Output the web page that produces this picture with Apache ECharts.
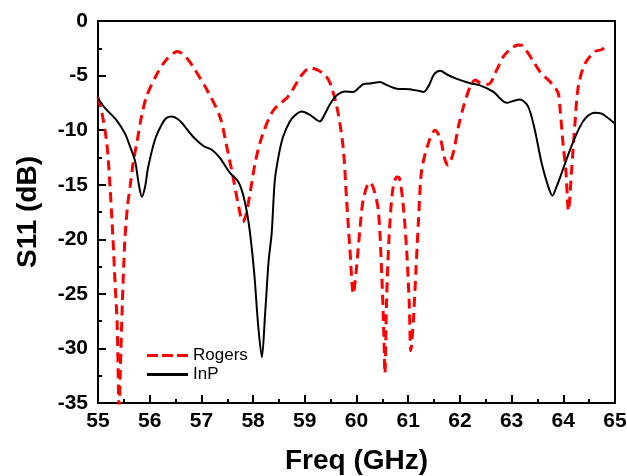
<!DOCTYPE html>
<html>
<head>
<meta charset="utf-8">
<script src="https://cdn.jsdelivr.net/npm/echarts@6/dist/echarts.min.js"></script>
<style>html,body{margin:0;padding:0;background:#fff}#c{width:627px;height:476px}</style>
</head>
<body>
<div id="c"></div>
<script>
const freqInP = [55.00,55.14,55.36,55.52,55.62,55.72,55.79,55.85,55.91,55.97,56.10,56.23,56.32,56.43,56.55,56.65,56.84,57.04,57.20,57.35,57.55,57.71,57.80,57.88,57.94,58.02,58.10,58.17,58.23,58.30,58.36,58.42,58.50,58.58,58.71,58.82,58.94,59.10,59.29,59.38,59.49,59.62,59.78,59.94,60.05,60.13,60.30,60.45,60.60,60.78,61.03,61.20,61.30,61.40,61.50,61.62,61.75,61.94,62.20,62.39,62.65,62.80,62.90,63.05,63.16,63.32,63.45,63.58,63.71,63.79,63.86,63.94,64.13,64.32,64.45,64.61,64.75,64.84,65.00];
const s11InP = [-7.1,-8.0,-9.1,-10.3,-11.5,-12.9,-15.0,-16.1,-15.2,-13.4,-10.9,-9.5,-8.9,-8.75,-9.0,-9.5,-10.6,-11.45,-11.8,-12.5,-13.9,-14.7,-15.8,-17.5,-19.4,-23,-28,-30.8,-27,-22,-19.4,-14.6,-12.2,-10.6,-9.2,-8.6,-8.3,-8.6,-9.2,-8.6,-7.6,-6.8,-6.45,-6.5,-6.1,-5.8,-5.7,-5.6,-5.9,-6.2,-6.25,-6.4,-6.5,-5.9,-4.9,-4.55,-4.9,-5.3,-5.7,-5.9,-6.5,-7.2,-7.5,-7.3,-7.2,-7.85,-10.0,-13.0,-15.2,-16.0,-15.3,-14.3,-11.8,-9.7,-8.8,-8.4,-8.5,-8.8,-9.4];

const freqRogers = [55.00,55.08,55.17,55.23,55.29,55.33,55.37,55.41,55.43,55.47,55.52,55.57,55.62,55.68,55.75,55.84,55.94,56.13,56.33,56.54,56.70,56.84,57.13,57.36,57.49,57.62,57.72,57.80,57.86,57.94,58.04,58.17,58.39,58.68,58.94,59.10,59.25,59.39,59.49,59.62,59.74,59.81,59.87,59.94,59.99,60.07,60.13,60.25,60.32,60.42,60.49,60.53,60.55,60.58,60.63,60.70,60.78,60.83,60.90,60.97,61.02,61.05,61.10,61.15,61.20,61.26,61.39,61.52,61.62,61.71,61.77,61.87,61.97,62.07,62.20,62.30,62.40,62.55,62.71,62.84,63.00,63.13,63.22,63.42,63.55,63.77,63.90,63.94,64.00,64.05,64.10,64.16,64.23,64.29,64.42,64.61,64.75,64.85];
const s11Rogers = [-7.0,-8.5,-11.2,-15,-20,-24,-27.7,-36,-32.3,-26,-20,-17,-15.2,-13,-11.2,-8.8,-6.9,-4.95,-3.5,-2.8,-3.3,-4.2,-6.5,-8.8,-11.5,-14.5,-17.0,-18.4,-17.8,-15.8,-13.0,-10.6,-8.2,-6.9,-4.95,-4.3,-4.5,-4.95,-5.7,-7.85,-11.5,-16.5,-20.7,-25.0,-23.1,-18.9,-16.4,-14.8,-15.2,-17.3,-23.4,-28.9,-32.3,-25.9,-19.8,-15.5,-14.3,-14.4,-16.7,-21,-25.9,-30.2,-27.4,-22.8,-18.2,-13.7,-11.2,-10.0,-10.75,-12.7,-13.2,-12.1,-9.7,-7.85,-6.0,-5.4,-5.7,-5.8,-4.5,-3.27,-2.5,-2.2,-2.3,-3.7,-4.65,-5.7,-6.6,-8.2,-11.5,-13.7,-17.4,-13.7,-9.1,-6.0,-3.9,-2.8,-2.6,-2.0];

const seriesNames = ['Rogers', 'InP'];
const xTitle = 'Freq (GHz)';
const yTitle = 'S11 (dB)';

const FONT = '"Liberation Sans", Arial, sans-serif';
const chart = echarts.init(document.getElementById('c'), null, {renderer: 'canvas'});

function axisCommon() {
  return {
    axisLine: {show: true, onZero: false, lineStyle: {color: '#000', width: 2}},
    axisTick: {show: true, inside: true, length: 8, lineStyle: {color: '#000', width: 2}},
    minorTick: {show: true, splitNumber: 2, length: 4, lineStyle: {color: '#000', width: 2}},
    splitLine: {show: false},
    axisLabel: {color: '#000', fontSize: 21, fontWeight: 'bold', fontFamily: FONT},
    nameTextStyle: {color: '#000', fontSize: 28, fontWeight: 'bold', fontFamily: FONT}
  };
}

const xa = Object.assign(axisCommon(), {
  type: 'value', min: 55, max: 65, interval: 1,
  name: xTitle, nameLocation: 'middle', nameGap: 44
});
xa.axisLabel.margin = 8;
const ya = Object.assign(axisCommon(), {
  type: 'value', min: -35, max: 0, interval: 5,
  name: yTitle, nameLocation: 'middle', nameGap: 56
});
ya.axisLabel.margin = 10;

const dashIcon = 'path://M0,0h11v3h-11z M15,0h11v3h-11z M30,0h11v3h-11z';
const solidIcon = 'path://M0,0h41v3h-41z';

chart.setOption({
  animation: false,
  backgroundColor: '#fff',
  grid: {left: 98, right: 12, top: 21, bottom: 73, outerBoundsMode: 'none', containLabel: false, show: true, borderColor: '#000', borderWidth: 2, backgroundColor: 'transparent'},
  xAxis: xa,
  yAxis: ya,
  legend: {
    show: true, orient: 'vertical', left: 142, top: 342,
    itemWidth: 41, itemHeight: 3, itemGap: 2,
    textStyle: {color: '#000', fontSize: 17, fontFamily: FONT},
    data: [{name: seriesNames[0], icon: dashIcon}, {name: seriesNames[1], icon: solidIcon}]
  },
  series: [
    {
      name: seriesNames[0], type: 'line', smooth: 0.3, showSymbol: false, symbol: 'none',
      data: freqRogers.map((f, i) => [f, s11Rogers[i]]),
      lineStyle: {color: '#ff0000', width: 3, type: [10, 6]},
      itemStyle: {color: '#ff0000'}, z: 2
    },
    {
      name: seriesNames[1], type: 'line', smooth: 0.3, showSymbol: false, symbol: 'none',
      data: freqInP.map((f, i) => [f, s11InP[i]]),
      lineStyle: {color: '#000', width: 2, type: 'solid'},
      itemStyle: {color: '#000'}, z: 3
    }
  ]
});
</script>
</body>
</html>
